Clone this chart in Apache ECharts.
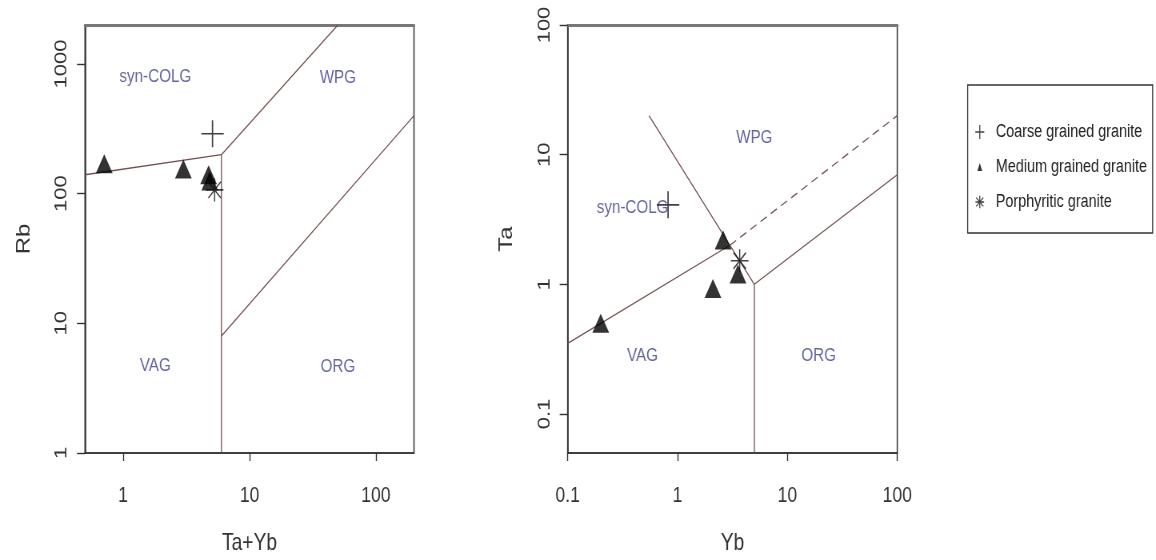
<!DOCTYPE html>
<html><head><meta charset="utf-8">
<script src="https://cdn.jsdelivr.net/npm/echarts@6.0.0/dist/echarts.min.js"></script>
<style>
html,body{margin:0;padding:0;overflow:hidden;background:#fff;width:1156px;height:560px;}
#c{width:1445px;height:560px;transform:scaleX(0.8);transform-origin:0 0;}
</style></head><body><div id="c"></div>
<script>
// ---- data (left: Rb vs Ta+Yb, right: Ta vs Yb) ----
const seriesNames = ['Coarse grained granite', 'Medium grained granite', 'Porphyritic granite'];

const coarseLeft = [[5.1, 290]];
const mediumLeft = [[0.71, 170], [3.0, 155], [4.75, 140], [4.85, 125]];
const porphLeft = [[5.3, 107]];

const coarseRight = [[0.82, 4.1]];
const mediumRight = [[0.2, 0.5], [2.1, 0.93], [2.6, 2.2], [3.55, 1.2]];
const porphRight = [[3.68, 1.52]];

// boundary lines (Pearce et al. 1984)
const leftVagSyn = [[0.5, 140], [6, 200]];
const leftVert = [[6, 1], [6, 200]];
const leftWpgSyn = [[6, 200], [50, 2000]];
const leftOrgWpg = [[6, 8], [200, 400]];

const rightVagSyn = [[0.1, 0.35], [3, 2]];
const rightWpgOrgDash = [[3, 2], [100, 20]];
const rightSynWpg = [[0.55, 20], [3, 2], [5, 1]];
const rightOrg = [[5, 1], [100, 7]];
const rightVert = [[5, 0.05], [5, 1]];

// field labels
const leftFieldLabels = [['syn-COLG', 1.8, 800], ['WPG', 50, 780], ['VAG', 1.8, 4.7], ['ORG', 50, 4.65]];
const rightFieldLabels = [['WPG', 5, 13.6], ['syn-COLG', 0.39, 3.86], ['VAG', 0.48, 0.28], ['ORG', 19.3, 0.28]];

// axis ticks
const leftXTicks = [1, 10, 100];
const leftYTicks = [1, 10, 100, 1000];
const rightXTicks = [0.1, 1, 10, 100];
const rightYTicks = [0.1, 1, 10, 100];

// ---- styling ----
const FONT = "'Liberation Sans', Arial, sans-serif";
const LINE_COLOR = '#765050';
const FIELD_COLOR = '#3d3d8e';

const PLUS = 'path://M0,-10L0,10M-10,0L10,0';
const STAR = 'path://M0,-10L0,10M-10,0L10,0M-7.07,-7.07L7.07,7.07M-7.07,7.07L7.07,-7.07';
const PLUS_LEG = 'path://M-6,-7M6,7M0,-7L0,7M-5.6,0L5.6,0';
const TRI_LEG = 'path://M-6,-7M6,7M0,-4L3,4L-3,4Z';
const STAR_LEG = 'path://M-6,-7M6,7M0,-6.3L0,6.3M-5.4,0L5.4,0M-4.4,-4.4L4.4,4.4M-4.4,4.4L4.4,-4.4';

function fmt(v) { return String(v); }

function xAxisBottom(gridIndex, min, max, ticks, name) {
  return {
    type: 'log', logBase: 10, gridIndex, min, max, position: 'bottom',
    name, nameLocation: 'middle', nameGap: 78,
    nameTextStyle: { fontFamily: FONT, fontSize: 24, color: '#333' },
    axisLine: { show: true, onZero: false, lineStyle: { color: '#333', width: 1.6 } },
    axisTick: { show: true, inside: false, length: 8, customValues: ticks, lineStyle: { color: '#333', width: 1.4 } },
    axisLabel: { show: true, margin: 32, customValues: ticks, formatter: fmt, fontFamily: FONT, fontSize: 22, color: '#333' },
    splitLine: { show: false }, minorTick: { show: false }
  };
}
function xAxisTop(gridIndex, min, max) {
  return {
    type: 'log', logBase: 10, gridIndex, min, max, position: 'top',
    axisLine: { show: true, onZero: false, lineStyle: { color: '#777', width: 3 } },
    axisTick: { show: false }, axisLabel: { show: false }, splitLine: { show: false }
  };
}
function yAxisLeft(gridIndex, min, max, ticks, name) {
  return {
    type: 'log', logBase: 10, gridIndex, min, max,
    name, nameLocation: 'middle', nameGap: 64,
    nameTextStyle: { fontFamily: FONT, fontSize: 24, color: '#333' },
    axisLine: { show: true, onZero: false, lineStyle: { color: '#333', width: 1.6 } },
    axisTick: { show: true, inside: false, length: 10, customValues: ticks, lineStyle: { color: '#333', width: 1.4 } },
    axisLabel: { show: true, rotate: 90, margin: 18, customValues: ticks, formatter: fmt, fontFamily: FONT, fontSize: 22, color: '#333' },
    splitLine: { show: false }, minorTick: { show: false }
  };
}

function boundary(xi, yi, data, dashed) {
  return {
    type: 'line', xAxisIndex: xi, yAxisIndex: yi, data, symbol: 'none', silent: true, z: 2,
    lineStyle: { color: LINE_COLOR, width: 1.3, type: dashed ? [9, 6] : 'solid' }
  };
}
function fieldLabels(xi, yi, arr) {
  return {
    type: 'scatter', xAxisIndex: xi, yAxisIndex: yi, symbolSize: 1, silent: true, z: 3,
    itemStyle: { color: 'rgba(0,0,0,0)' },
    data: arr.map(d => ({ name: d[0], value: [d[1], d[2]] })),
    label: { show: true, position: 'inside', formatter: '{b}', color: FIELD_COLOR, fontFamily: FONT, fontSize: 19 }
  };
}
function pts(xi, yi, name, data, kind) {
  const s = { type: 'scatter', name, xAxisIndex: xi, yAxisIndex: yi, data, z: 5, silent: true };
  if (kind === 'plus') {
    s.symbol = PLUS; s.symbolSize = [28, 27];
    s.itemStyle = { color: 'rgba(0,0,0,0)', borderColor: '#111', borderWidth: 1.7 };
  } else if (kind === 'tri') {
    s.symbol = 'triangle'; s.symbolSize = [21, 19];
    s.itemStyle = { color: '#000' };
  } else {
    s.symbol = STAR; s.symbolSize = [22, 23];
    s.itemStyle = { color: 'rgba(0,0,0,0)', borderColor: '#111', borderWidth: 1.5 };
  }
  return s;
}

const chart = echarts.init(document.getElementById('c'), null, { renderer: 'canvas' });
chart.setOption({
  animation: false,
  backgroundColor: '#fff',
  grid: [
    { left: 106.25, width: 411.25, top: 25, height: 433.3, show: true, borderColor: '#333', borderWidth: 1.5, backgroundColor: 'transparent' },
    { left: 709.6, width: 412, top: 25, height: 433.3, show: true, borderColor: '#333', borderWidth: 1.5, backgroundColor: 'transparent' }
  ],
  xAxis: [
    xAxisBottom(0, 0.5, 200, leftXTicks, 'Ta+Yb'),
    xAxisBottom(1, 0.1, 100, rightXTicks, 'Yb'),
    xAxisTop(0, 0.5, 200),
    xAxisTop(1, 0.1, 100)
  ],
  yAxis: [
    yAxisLeft(0, 1, 2000, leftYTicks, 'Rb'),
    yAxisLeft(1, 0.05, 100, rightYTicks, 'Ta')
  ],
  legend: {
    show: true, orient: 'vertical', left: 1209.6, top: 85,
    padding: [35, 7, 19, 8.5], itemGap: 11, itemWidth: 12, itemHeight: 14,
    borderColor: '#333', borderWidth: 1.3, backgroundColor: '#fff',
    selectedMode: false,
    textStyle: { fontFamily: FONT, fontSize: 18, color: '#222', lineHeight: 24, padding: [0, 0, 0, 9] },
    data: [
      { name: seriesNames[0], icon: PLUS_LEG, itemStyle: { color: 'rgba(0,0,0,0)', borderColor: '#111', borderWidth: 1.3 } },
      { name: seriesNames[1], icon: TRI_LEG, itemStyle: { color: '#000', borderWidth: 0 } },
      { name: seriesNames[2], icon: STAR_LEG, itemStyle: { color: 'rgba(0,0,0,0)', borderColor: '#111', borderWidth: 1.3 } }
    ]
  },
  series: [
    boundary(0, 0, leftVagSyn), boundary(0, 0, leftVert), boundary(0, 0, leftWpgSyn), boundary(0, 0, leftOrgWpg),
    fieldLabels(0, 0, leftFieldLabels),
    pts(0, 0, seriesNames[0], coarseLeft, 'plus'),
    pts(0, 0, seriesNames[1], mediumLeft, 'tri'),
    pts(0, 0, seriesNames[2], porphLeft, 'star'),

    boundary(1, 1, rightVagSyn), boundary(1, 1, rightWpgOrgDash, true), boundary(1, 1, rightSynWpg),
    boundary(1, 1, rightOrg), boundary(1, 1, rightVert),
    fieldLabels(1, 1, rightFieldLabels),
    pts(1, 1, seriesNames[0], coarseRight, 'plus'),
    pts(1, 1, seriesNames[1], mediumRight, 'tri'),
    pts(1, 1, seriesNames[2], porphRight, 'star')
  ]
});
</script></body></html>
